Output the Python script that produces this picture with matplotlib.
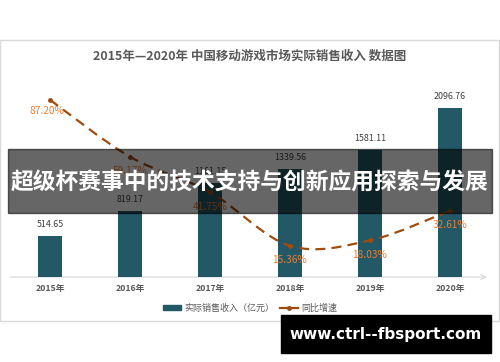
import matplotlib.pyplot as plt
import numpy as np
from matplotlib.path import Path
from matplotlib.patches import PathPatch, Rectangle
from matplotlib.lines import Line2D

plt.rcParams['font.family'] = ['Noto Sans CJK SC', 'DejaVu Sans']

years = ["2015年", "2016年", "2017年", "2018年", "2019年", "2020年"]
revenue = [514.65, 819.17, 1161.15, 1339.56, 1581.11, 2096.76]
growth = [87.20, 59.17, 41.75, 15.36, 18.03, 32.61]

bar_color = "#235866"
line_color = "#a04c0e"
pct_color = "#ed7d31"

fig = plt.figure(figsize=(5, 3.62), dpi=100)

# 图表外框
fig.patches.append(Rectangle((0.0, 1 - 321 / 362), 499 / 500, 281 / 362,
                             transform=fig.transFigure, fill=False,
                             edgecolor="#d9d9d9", lw=1, zorder=0))

ax = fig.add_axes([0.02, 1 - 277 / 362, 0.96, 192 / 362])
x = np.arange(len(years))
ax.bar(x, revenue, width=0.31, color=bar_color, zorder=2)
for xi, v in zip(x, revenue):
    ax.annotate(f"{v:.2f}", (xi, v), xytext=(0, 5), textcoords="offset points",
                ha="center", va="bottom", fontsize=6.4, color="#404040")
ax.set_xlim(-0.5, 5.5)
ax.set_ylim(0, 2382)
ax.set_xticks(x, years, fontsize=6.3, color="#595959", fontweight="bold")
ax.tick_params(axis="x", length=0, pad=5)
ax.set_yticks([])
for s in ax.spines.values():
    s.set_visible(False)
ax.annotate("", xy=(1.0, 0), xytext=(-0.005, 0), xycoords="axes fraction",
            arrowprops=dict(arrowstyle="->", color="#d9d9d9", lw=0.9,
                            mutation_scale=9), zorder=1)

# 同比增速（平滑曲线）
ax2 = ax.twinx()
ax2.set_ylim(0, 94.5)
ax2.set_yticks([])
for s in ax2.spines.values():
    s.set_visible(False)
pts = np.column_stack([x, growth]).astype(float)
verts = [pts[0]]
codes = [Path.MOVETO]
n = len(pts)
for i in range(n - 1):
    p0 = pts[max(i - 1, 0)]
    p1 = pts[i]
    p2 = pts[i + 1]
    p3 = pts[min(i + 2, n - 1)]
    c1 = p1 + (p2 - p0) / 6
    c2 = p2 - (p3 - p1) / 6
    verts += [c1, c2, p2]
    codes += [Path.CURVE4] * 3
ax2.add_patch(PathPatch(Path(verts, codes), fill=False, edgecolor=line_color,
                        lw=1.6, linestyle=(0, (4.5, 2.8)), zorder=3))
ax2.plot(x, growth, "o", color=line_color, ms=2.5, zorder=4)
for i, (xi, g) in enumerate(zip(x, growth)):
    off = (-2, -8) if i == 0 else (0, -10.5)
    ax2.annotate(f"{g:.2f}%", (xi, g), xytext=off, textcoords="offset points",
                 ha="center", va="center", fontsize=7.3, color=pct_color)

ax.text(0.5, 1 - 56 / 362, "2015年—2020年 中国移动游戏市场实际销售收入 数据图",
        transform=fig.transFigure, ha="center", va="center", fontsize=9,
        color="#595959", fontweight="bold")

handles = [Rectangle((0, 0), 1, 1, color=bar_color),
           Line2D([0], [0], color=line_color, lw=1.6, marker="o", ms=2.5)]
fig.legend(handles, ["实际销售收入（亿元）", "同比增速"], loc="center",
           bbox_to_anchor=(0.5, 1 - 308 / 362), ncol=2, frameon=False,
           fontsize=6.5, handlelength=2.0, handleheight=0.6,
           columnspacing=0.6, handletextpad=0.4,
           labelcolor="#595959")

# 横幅
fig.patches.append(Rectangle((8 / 500, 1 - 213 / 362), 484 / 500, 64 / 362,
                             transform=fig.transFigure, color="black",
                             alpha=0.6, zorder=10))
fig.text(0.5, 1 - 183 / 362, "超级杯赛事中的技术支持与创新应用探索与发展",
         ha="center", va="center", fontsize=16.4, color="white",
         fontweight="bold", zorder=11)

# 水印
fig.patches.append(Rectangle((281 / 500, 1 - 353 / 362), 210 / 500, 38 / 362,
                             transform=fig.transFigure, color="black",
                             zorder=10))
fig.text(386 / 500, 1 - 335 / 362, "www.ctrl--fbsport.com", ha="center",
         va="center", fontsize=11, color="white", fontweight="bold",
         family="DejaVu Sans", zorder=11)

fig.savefig("out.png", dpi=100)
